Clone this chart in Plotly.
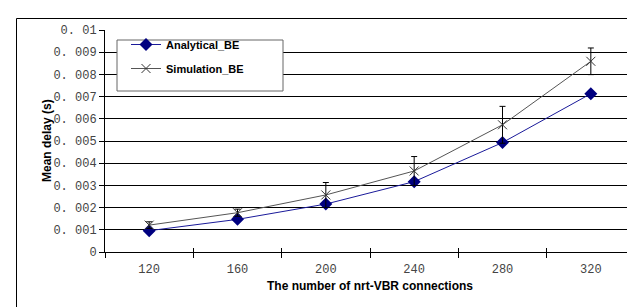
import plotly.graph_objects as go

categories = ["120", "160", "200", "240", "280", "320"]
analytical = [0.00096, 0.00147, 0.00216, 0.00317, 0.00493, 0.00713]
simulation = [0.00121, 0.00177, 0.00257, 0.00365, 0.00573, 0.00859]
sim_error = [0.00015, 0.00016, 0.00056, 0.00065, 0.00083, 0.00060]
y_tickvals = [0, 0.001, 0.002, 0.003, 0.004, 0.005, 0.006, 0.007, 0.008, 0.009, 0.01]
y_ticktext = ["0", "0. 001", "0. 002", "0. 003", "0. 004", "0. 005", "0. 006",
              "0. 007", "0. 008", "0. 009", "0. 01"]

W, H = 635, 307
L, R, T, B = 97, 8, 22, 63
pw, ph = W - L - R, H - T - B

def px(x):
    return (x - L) / pw

def py(y):
    return 1 - (y - T) / ph

fig = go.Figure()
# invisible helper trace so the overlay axes (gridlines, inner tick halves) are drawn
fig.add_trace(go.Scatter(
    x=categories, y=analytical, mode="none", showlegend=False, hoverinfo="skip",
    xaxis="x2", yaxis="y2",
))
fig.add_trace(go.Scatter(
    x=categories, y=analytical, name="Analytical_BE", mode="lines+markers",
    line=dict(color="#1a1a9a", width=1),
    marker=dict(symbol="diamond", size=10, color="#000080"),
    legendgroup="a",
))
fig.add_trace(go.Scatter(
    x=categories, y=simulation, name="Simulation_BE", mode="lines+markers",
    line=dict(color="#555555", width=1),
    marker=dict(symbol="x-thin-open", size=9, color="#333333", line=dict(width=1, color="#333333")),
    error_y=dict(type="data", array=sim_error, visible=True, color="#000000", thickness=1, width=3),
    legendgroup="b",
))

tickfont = dict(family="Liberation Mono", size=12, color="#444444")
fig.update_layout(
    width=W, height=H,
    margin=dict(l=L, r=R, t=T, b=B, autoexpand=False),
    paper_bgcolor="white", plot_bgcolor="white",
    showlegend=True,
    legend=dict(x=px(118), y=py(22), xanchor="left", yanchor="top",
                bgcolor="rgba(0,0,0,0)", borderwidth=0,
                font=dict(family="Liberation Sans", size=11, color="#000000", weight="bold"),
                traceorder="grouped", tracegroupgap=5),
    xaxis=dict(type="category", range=[-0.5, 5.5], tickson="boundaries",
               ticks="outside", ticklen=5, tickcolor="#000000",
               showline=True, linecolor="#000000", linewidth=1, automargin=False,
               showgrid=False, zeroline=False, tickfont=tickfont, ticklabelstandoff=6),
    yaxis=dict(range=[0, 0.01], tickvals=y_tickvals, ticktext=y_ticktext,
               ticks="outside", ticklen=5, tickcolor="#000000", automargin=False,
               showline=True, linecolor="#000000", linewidth=1,
               showgrid=False, zeroline=False, tickfont=tickfont),
    xaxis2=dict(overlaying="x", matches="x", type="category", tickson="boundaries",
                ticks="inside", ticklen=4, tickcolor="#000000", showticklabels=False,
                showgrid=False, showline=False, side="bottom", automargin=False),
    yaxis2=dict(overlaying="y", matches="y", tickvals=y_tickvals[1:-1],
                ticks="inside", ticklen=3, tickcolor="#000000", showticklabels=False,
                showgrid=True, gridcolor="#000000", gridwidth=1, showline=False,
                zeroline=False, side="left", automargin=False),
    font=dict(family="Liberation Sans", color="#000000"),
)

fig.add_annotation(text="<b>Mean delay (s)</b>", xref="paper", yref="paper",
                   x=px(30), y=py(133), textangle=-90, showarrow=False,
                   font=dict(family="Liberation Sans", size=12, color="#000000"))
fig.add_annotation(text="<b>The number of nrt-VBR connections</b>", xref="paper", yref="paper",
                   x=px(362), y=py(287), showarrow=False,
                   font=dict(family="Liberation Sans", size=12, color="#000000"))

# legend box
fig.add_shape(type="rect", xref="paper", yref="paper",
              x0=px(109), x1=px(275), y0=py(83), y1=py(32),
              line=dict(color="#666666", width=1), fillcolor="white", layer="above")
# chart outer border
fig.add_shape(type="rect", xref="paper", yref="paper",
              x0=px(8.5), x1=px(660), y0=py(330), y1=py(10.5),
              line=dict(color="#000000", width=1), fillcolor="rgba(0,0,0,0)", layer="above")

fig.write_html("out.html")
